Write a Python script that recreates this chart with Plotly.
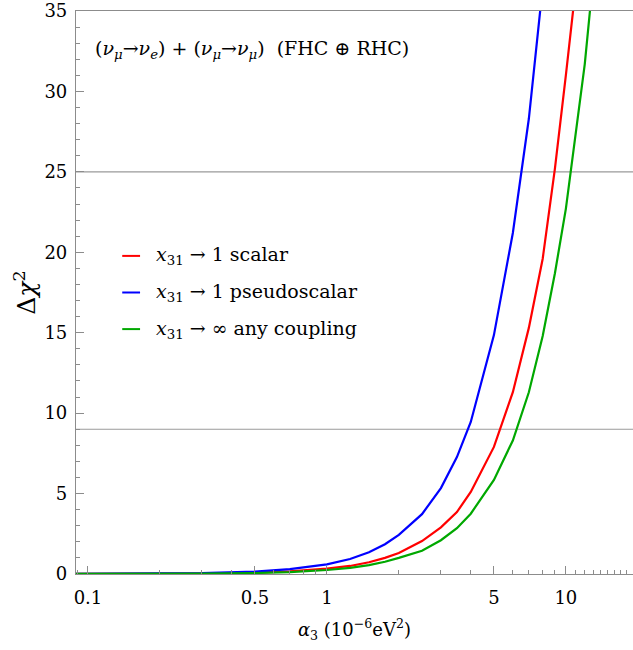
import plotly.graph_objects as go

# alpha_3 sample points (units of 1e-6 eV^2)
alpha3 = [0.08, 0.1, 0.2, 0.3, 0.5, 0.7, 1.0, 1.25, 1.5, 1.75, 2.0, 2.5,
          3.0, 3.5, 4.0, 5.0, 6.0, 7.0, 8.0, 9.0, 10.0, 11.0, 12.0, 13.0]

# Delta chi^2 for each hypothesis
chi2_scalar = [0.002, 0.003, 0.013, 0.03, 0.08, 0.16, 0.33, 0.5, 0.73, 1.0, 1.3, 2.05,
               2.9, 3.85, 5.1, 7.9, 11.3, 15.3, 19.6, 25.2, 31.0, 36.5]
chi2_pseudo = [0.004, 0.006, 0.024, 0.055, 0.15, 0.3, 0.6, 0.93, 1.35, 1.85, 2.43, 3.72,
               5.34, 7.27, 9.45, 14.85, 21.2, 28.3, 36.5]
chi2_any = [0.0015, 0.0025, 0.01, 0.023, 0.062, 0.12, 0.25, 0.38, 0.55, 0.76, 1.0, 1.45,
            2.1, 2.85, 3.75, 5.85, 8.3, 11.3, 14.8, 18.7, 22.7, 27.4, 31.7, 37.0]

series_names = ["<i>x</i><sub>31</sub> → 1 scalar",
                "<i>x</i><sub>31</sub> → 1 pseudoscalar",
                "<i>x</i><sub>31</sub> → ∞ any coupling"]
series_colors = ["#ff0000", "#0000ff", "#00a800"]
series_values = [chi2_scalar, chi2_pseudo, chi2_any]

x_major = [0.1, 0.5, 1, 5, 10]
x_major_text = ["0.1", "0.5", "1", "5", "10"]
x_minor = [0.09, 0.2, 0.3, 0.4, 0.6, 0.7, 0.8, 0.9, 2, 3, 4, 6, 7, 8, 9,
           11, 12, 13, 14, 15, 16, 17, 18, 19]
y_major = [0, 5, 10, 15, 20, 25, 30, 35]
ref_levels = [9, 25]

FONT = "DejaVu Serif"

fig = go.Figure()
for name, color, vals in zip(series_names, series_colors, series_values):
    fig.add_trace(go.Scatter(x=alpha3[:len(vals)], y=vals, mode="lines", name=name,
                             line=dict(color=color, width=2.2), showlegend=False))

for lv in ref_levels:
    fig.add_hline(y=lv, line=dict(color="#9a9a9a", width=1.2), layer="below")

# hand-built legend
legend_y = [0.565, 0.5, 0.435]
for name, color, yy in zip(series_names, series_colors, legend_y):
    fig.add_shape(type="line", xref="paper", yref="paper", x0=0.083, x1=0.115,
                  y0=yy, y1=yy, line=dict(color=color, width=2))
    fig.add_annotation(xref="paper", yref="paper", x=0.14, y=yy, text=name,
                       showarrow=False, xanchor="left", yanchor="middle",
                       font=dict(family=FONT, size=19, color="black"))

fig.add_annotation(xref="paper", yref="paper", x=0.03, y=0.932,
                   text="(<i>ν</i><sub><i>μ</i></sub>→<i>ν</i><sub><i>e</i></sub>) + "
                        "(<i>ν</i><sub><i>μ</i></sub>→<i>ν</i><sub><i>μ</i></sub>)  (FHC ⊕ RHC)",
                   showarrow=False, xanchor="left", yanchor="middle",
                   font=dict(family=FONT, size=19, color="black"))

axis_col = "#8c8c8c"
fig.update_layout(
    width=633, height=650,
    margin=dict(l=76, r=0, t=11, b=76),
    plot_bgcolor="white", paper_bgcolor="white",
    font=dict(family=FONT, size=18, color="black"),
    xaxis=dict(
        type="log", range=[-1.05, 1.281],
        tickmode="array", tickvals=x_major, ticktext=x_major_text,
        ticks="inside", ticklen=8, tickwidth=1, tickcolor=axis_col,
        minor=dict(tickmode="array", tickvals=x_minor, ticks="inside",
                   ticklen=4, tickcolor=axis_col, showgrid=False),
        showline=True, linecolor=axis_col, linewidth=1.2, mirror=True,
        showgrid=False, zeroline=False, ticklabelstandoff=7,
        title=dict(text="<i>α</i><sub>3</sub> (10<sup>−6</sup>eV<sup>2</sup>)",
                   font=dict(size=18), standoff=16),
    ),
    yaxis=dict(
        range=[0, 35], tickmode="array", tickvals=y_major,
        ticks="inside", ticklen=8, tickwidth=1, tickcolor=axis_col,
        minor=dict(dtick=1, ticks="inside", ticklen=4, tickcolor=axis_col, showgrid=False),
        showline=True, linecolor=axis_col, linewidth=1.2,
        showgrid=False, zeroline=False, ticklabelstandoff=4,
        title=dict(text="Δ<i>χ</i><sup>2</sup>", font=dict(size=25), standoff=1),
    ),
)

fig.write_html("out.html")
